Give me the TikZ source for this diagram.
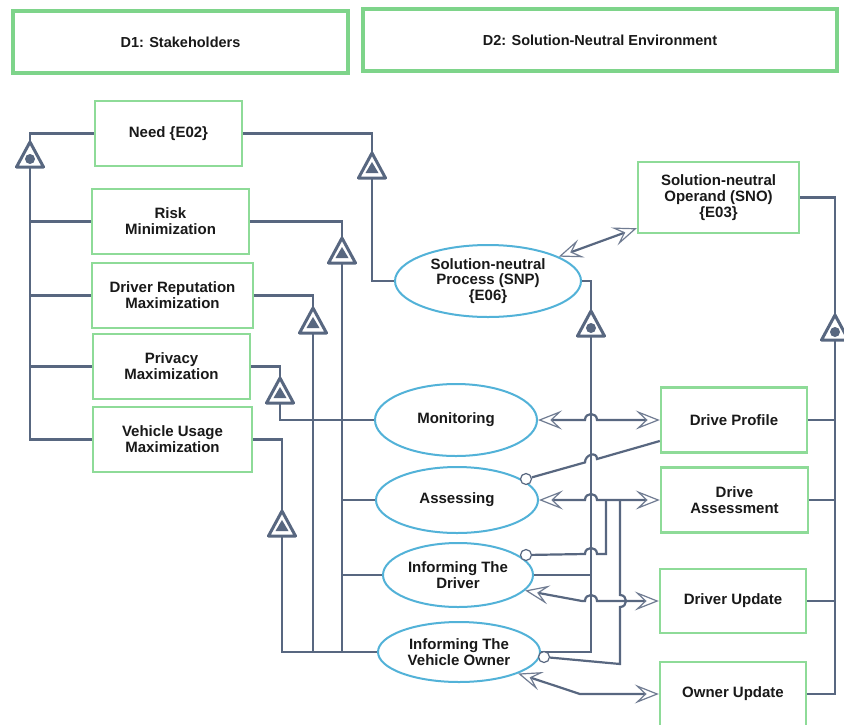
\documentclass[tikz,border=0pt]{standalone}
\usepackage{fontspec}
\setmainfont{Liberation Sans}
\usetikzlibrary{shapes.geometric,arrows.meta,calc}
\definecolor{linec}{RGB}{88,103,128}
\definecolor{arrowc}{RGB}{112,124,146}
\definecolor{boxgreen}{RGB}{142,219,152}
\definecolor{hdgreen}{RGB}{126,212,138}
\definecolor{elblue}{RGB}{82,178,216}
\definecolor{txt}{RGB}{25,25,25}
\pgfdeclarelayer{bg}
\pgfsetlayers{bg,main}
\tikzset{
  tri/.style={draw=linec, line width=3pt, line join=round, fill=white},
  % aggregation symbol: outer triangle with a dot
  pics/aggr/.style={code={
    \draw[tri] (0,-13) -- (13.5,12) -- (-13.5,12) -- cycle;
    \fill[linec] (0,4) circle (5);
    \coordinate (-apex) at (0,-13);
    \coordinate (-base) at (0,12);
  }},
  % exhibition symbol: outer triangle with a small solid triangle
  pics/exhib/.style={code={
    \draw[tri] (0,-13) -- (13.5,12) -- (-13.5,12) -- cycle;
    \fill[linec] (0,-4) -- (6.5,7) -- (-6.5,7) -- cycle;
    \coordinate (-apex) at (0,-13);
    \coordinate (-base) at (0,12);
  }},
  opn/.tip={Stealth[open,length=24pt,width=19pt,inset=10pt,line width=1.2pt,color=arrowc]},
}
\begin{document}
\begin{tikzpicture}[x=1pt,y=-1pt,
  font=\fontsize{15}{15.8}\selectfont\bfseries,
  every node/.style={text=txt, align=center, inner sep=0pt},
  header/.style={draw=hdgreen, line width=4pt, fill=white, minimum width=#1, minimum height=62pt,
    font=\fontsize{14.5}{16}\selectfont\bfseries},
  obj/.style 2 args={draw=boxgreen, line width=2.4pt, fill=white, minimum width=#1pt, minimum height=#2pt},
  proc/.style 2 args={ellipse, draw=elblue, line width=2pt, fill=white, minimum width=#1pt, minimum height=#2pt},
  link/.style={draw=linec, line width=2.2pt},
  dbl/.style={opn-opn},
  lolli/.style={circle, draw=linec, line width=1.2pt, fill=white, minimum size=11pt},
]
\useasboundingbox (0,0) rectangle (844,724);

% headers
\node[header=335pt] (hd1) at (180.5,42) {D1: Stakeholders};
\node[header=474pt] (hd2) at (600,40) {D2: Solution-Neutral Environment};

% stakeholder objects
\node[obj={147}{65}] (need) at (168.5,133.5) {Need \{E02\}};
\node[obj={157}{65}] (risk) at (170.5,221.5) {Risk\\Minimization};
\node[obj={161}{65}] (drep) at (172.5,295.5) {Driver Reputation\\Maximization};
\node[obj={157}{65}] (priv) at (171.5,366.5) {Privacy\\Maximization};
\node[obj={159}{65}] (vum)  at (172.5,439.5) {Vehicle Usage\\Maximization};

% environment objects
\node[obj={161}{71}] (sno) at (718.5,197.5) {Solution-neutral\\Operand (SNO)\\\{E03\}};
\node[obj={146}{65}] (dp) at (734,420) {Drive Profile};
\node[obj={147}{65}] (da) at (734.5,500) {Drive\\Assessment};
\node[obj={146}{64}] (du) at (733,601) {Driver Update};
\node[obj={146}{64}] (ou) at (733,694) {Owner Update};

% processes
\node[proc={186}{72}] (snp) at (488,281) {Solution-neutral\\Process (SNP)\\\{E06\}};
\node[proc={162}{72}] (mon) at (456,420) {Monitoring};
\node[proc={162}{66}] (ass) at (457,500) {Assessing};
\node[proc={150}{64}] (idr) at (458,575) {Informing The\\Driver};
\node[proc={162}{60}] (iow) at (459,652) {Informing The\\Vehicle Owner};

% instrument link ends
\node[lolli] (lp1) at (526,479) {};
\node[lolli] (lp2) at (526,555) {};
\node[lolli] (lp3) at (544,657) {};

% structural symbols
\pic (tA) at (30,155) {aggr};
\pic (tB) at (372,166) {exhib};
\pic (tC) at (342,251) {exhib};
\pic (tD) at (313,321) {exhib};
\pic (tE) at (280,391) {exhib};
\pic (tF) at (282,524) {exhib};
\pic (tG) at (591,324) {aggr};
\pic (tH) at (835,328) {aggr};

% branch points on the Assessing - Drive Assessment link
\coordinate (j1) at (606,500);
\coordinate (j2) at (620,500);

\begin{pgfonlayer}{bg}
\fill[white] (0,0) rectangle (844,724);
% stakeholder aggregation
\draw[link] (need.west) -| (tA-apex);
\draw[link] (tA-base) |- (vum.west);
\draw[link] (risk.west) -- (risk.west -| tA-base);
\draw[link] (drep.west) -- (drep.west -| tA-base);
\draw[link] (priv.west) -- (priv.west -| tA-base);

% exhibition links
\draw[link] (need.east) -| (tB-apex);
\draw[link] (tB-base) |- (snp.west);
\draw[link] (risk.east) -| (tC-apex);
\draw[link] (tC-base) |- (iow.west);
\draw[link] (ass.west) -- (ass.west -| tC-base);
\draw[link] (idr.west) -- (idr.west -| tC-base);
\draw[link] (drep.east) -| (tD-apex);
\draw[link] (tD-base) -- (tD-base |- iow.west);
\draw[link] (priv.east) -| (tE-apex);
\draw[link] (tE-base) |- (mon.west);
\draw[link] (vum.east) -| (tF-apex);
\draw[link] (tF-base) |- (iow.west);

% process aggregation
\draw[link] (snp.east) -| (tG-apex);
\draw[link] (tG-base) |- (iow.east);
\draw[link] (idr.east) -- (idr.east -| tG-base);

% operand aggregation
\draw[link] (sno.east) -| (tH-apex);
\draw[link] (tH-base) |- (ou.east);
\draw[link] (dp.east) -- (dp.east -| tH-base);
\draw[link] (da.east) -- (da.east -| tH-base);
\draw[link] (du.east) -- (du.east -| tH-base);

% effect links
\draw[link, dbl] (snp.19) -- ($(sno.south west)+(0,-6)$);
\draw[link, dbl] (mon.east) -- (585,420) .. controls (585,412) and (597,412) .. (597,420) -- (dp.west);
\draw[link, dbl] (ass.east) -- (585,500) .. controls (585,492) and (597,492) .. (597,500) -- (da.west);
\draw[link, dbl] (idr.-13) -- (582,601) -- (585,601) .. controls (585,593) and (597,593) .. (597,601) -- (du.west);
\draw[link, dbl] (iow.-20) -- (580,694) -- (ou.west);

% instrument links
\draw[link] ($(dp.west)+(0,21)$) -- (597,459) .. controls (597,451) and (585,454.4) .. (585,462.4) -- (lp1);
\draw[link] (j1) -- (606,554) -- (597,554) .. controls (597,546) and (585,546) .. (585,554) -- (lp2);
\draw[link] (j2) -- (620,595) .. controls (628,595) and (628,607) .. (620,607) -- (620,664) -- (lp3);
\end{pgfonlayer}
\end{tikzpicture}
\end{document}
